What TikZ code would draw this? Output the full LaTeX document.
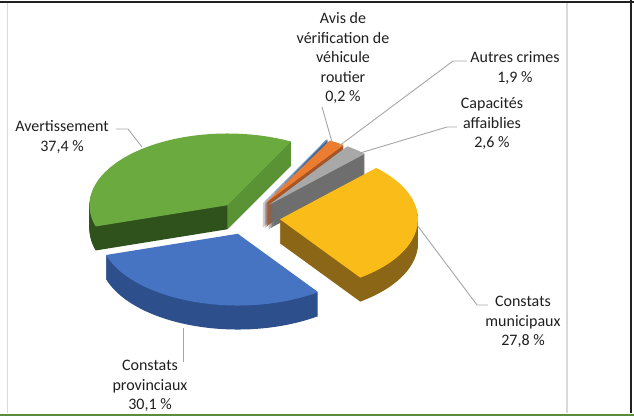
\documentclass[tikz,border=0pt]{standalone}
\usepackage{fontspec}
\setmainfont{Carlito}
\definecolor{frameblack}{HTML}{231F20}
\definecolor{framegreen}{HTML}{5A8A3C}
\definecolor{gtop}{HTML}{6BAA3E}
\definecolor{gmid}{HTML}{5A9334}
\definecolor{gdark}{HTML}{2F521C}
\definecolor{btop}{HTML}{4673C2}
\definecolor{bside}{HTML}{2D4F8C}
\definecolor{ytop}{HTML}{F9BC18}
\definecolor{yside}{HTML}{8A6616}
\definecolor{stop}{HTML}{A8A8A8}
\definecolor{sside}{HTML}{6E6E6E}
\definecolor{otop}{HTML}{EC7C30}
\definecolor{oside}{HTML}{A4562A}
\definecolor{atop}{HTML}{5B8FC8}
\definecolor{aside}{HTML}{3E6490}

% exploded 3d slice: start, end, top colour, side colour, apex name, extra walls
\newcommand\pieslice[6]{%
  \pgfmathsetmacro\sm{(#1+#2)/2}
  \begin{scope}[shift={({\ex*cos(\sm)},{-\ex*\fl*sin(\sm)})}]
    \foreach \d in {1,...,\dep}
      \fill[#4] (0,\d) -- plot[domain=#1:#2,samples=40] ({\rad*cos(\x)},{\d-\fl*\rad*sin(\x)}) -- cycle;
    #6
    \fill[#3] (0,0) -- plot[domain=#1:#2,samples=40] ({\rad*cos(\x)},{-\fl*\rad*sin(\x)}) -- cycle;
    \coordinate (#5) at (0,0);
  \end{scope}}

\def\rad{138}
\def\fl{0.52}
\def\ex{32}
\def\dep{24}

\begin{document}
\begin{tikzpicture}[x=1pt,y=-1pt,
    lbl/.style={align=center,inner sep=0pt,text=black!88,font=\fontsize{16}{19.5}\selectfont},
    leader/.style={draw=black!35,line width=0.9pt}]
  \useasboundingbox (0,0) rectangle (634,416);

  % frame
  \draw [line width=2.5pt,frameblack] (0,2) -- (634,2);
  \draw [line width=1.5pt,black!15] (7.5,3) -- (7.5,413);
  \draw [line width=1.5pt,black!15] (567,3) -- (567,413);
  \draw [line width=2.5pt,frameblack] (631,0) -- (631,413);
  \draw [line width=2pt,framegreen] (0,415) -- (634,415);

  % pie
  \begin{scope}[shift={(248,218)}]
    \pieslice{421.9}{422.6}{atop}{aside}{pAvis}{}
    \pieslice{415.1}{421.9}{otop}{oside}{pAutres}{}
    \pieslice{405.7}{415.1}{stop}{sside}{pCapa}{}
    \pieslice{62.6}{197.2}{gtop}{gdark}{pAvert}{%
      \fill[gmid] (0,0) -- ({\rad*cos(62.6)},{-\fl*\rad*sin(62.6)})
        -- ({\rad*cos(62.6)},{\dep-\fl*\rad*sin(62.6)}) -- (0,\dep) -- cycle;}
    \pieslice{305.6}{405.7}{ytop}{yside}{pMuni}{}
    \pieslice{197.2}{305.6}{btop}{bside}{pProv}{}
  \end{scope}

  % labels
  \node [lbl] (avis) at (343,58) {Avis de\\vérification de\\véhicule\\routier\\0,2 \%};
  \node [lbl] (autres) at (515,68) {Autres crimes\\1,9 \%};
  \node [lbl] (capa) at (492,124) {Capacités\\affaiblies\\2,6 \%};
  \node [lbl] (avert) at (62,137) {Avertissement\\37,4 \%};
  \node [lbl] (muni) at (523,322) {Constats\\municipaux\\27,8 \%};
  \node [lbl] (prov) at (150,386) {Constats\\provinciaux\\30,1 \%};

  % leader lines
  \coordinate (avisA) at (322,107);
  \coordinate (avisB) at (332,142);
  \coordinate (autresA) at (467,61);
  \coordinate (autresB) at (339,146);
  \coordinate (capaA) at (457,127);
  \coordinate (capaB) at (360,153);
  \coordinate (avertA) at (116,129);
  \coordinate (avertB) at (142,147);
  \coordinate (muniA) at (488,305);
  \coordinate (muniB) at (417,225);
  \coordinate (provA) at (183,362);
  \coordinate (provB) at (183,328);
  \draw [leader] (avisA) -- (avisB);
  \draw [leader] (autresA) -- ++(-14,0) -- (autresB);
  \draw [leader] (capaA) -- ++(-10,0) -- (capaB);
  \draw [leader] (avertA) -- ++(12,0) -- (avertB);
  \draw [leader] (muniA) -- ++(-11,0) -- (muniB);
  \draw [leader] (provA) -- (provB);
\end{tikzpicture}
\end{document}
